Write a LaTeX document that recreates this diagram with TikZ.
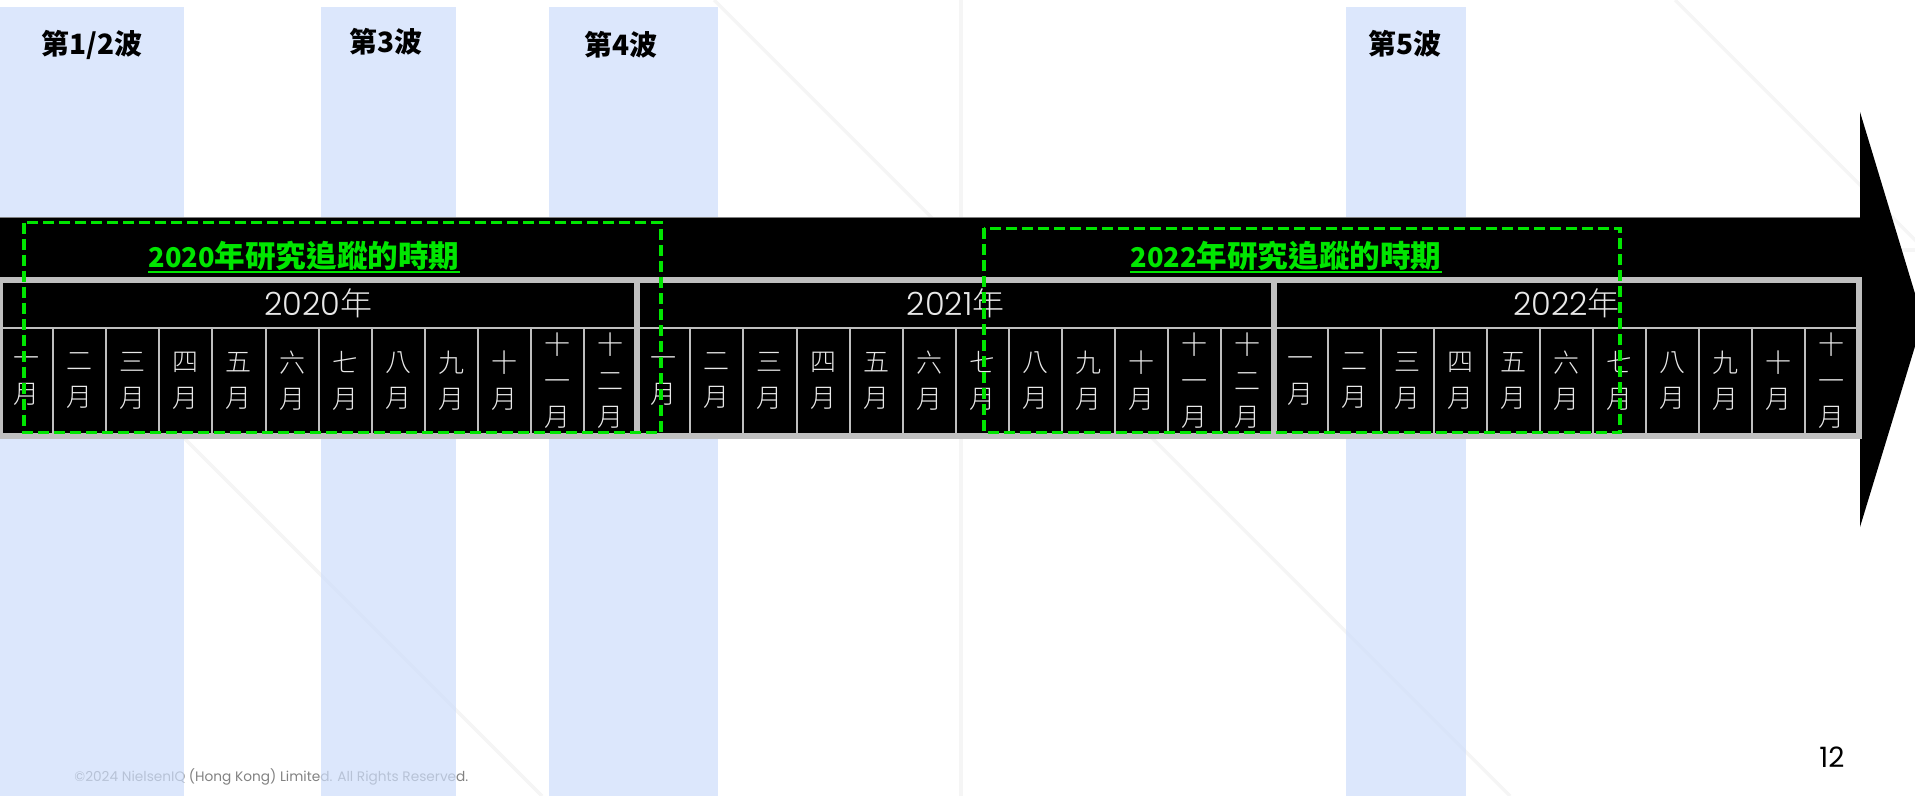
\documentclass[tikz,border=0pt]{standalone}
\usepackage{fontspec}
\newfontfamily\cjk{Noto Sans CJK TC}
\newfontfamily\pop{Poppins}
\IfFontExistsTF{Poppins Light}{\newfontfamily\popl{Poppins Light}}{\newfontfamily\popl{Poppins}}
\IfFontExistsTF{Noto Sans CJK TC Light}{\newfontfamily\cjkl{Noto Sans CJK TC Light}}{\newfontfamily\cjkl{Noto Sans CJK TC}}
\definecolor{bandblue}{RGB}{206,222,251}
\definecolor{ngreen}{RGB}{0,230,0}
\definecolor{gridgray}{RGB}{191,191,191}
\definecolor{faint}{RGB}{245,245,245}
\definecolor{monthtxt}{RGB}{232,232,232}
\definecolor{foottxt}{RGB}{130,130,130}
\tikzset{
  faintline/.style={faint, line width=1.6pt},
  bandfill/.style={fill=bandblue, opacity=0.7},
  wave/.style={inner sep=0pt, font=\cjk\bfseries\fontsize{14pt}{14pt}\selectfont, text=black},
  thinrule/.style={gridgray, line width=1pt},
  thickrule/.style={gridgray, line width=3pt},
  monthlbl/.style={inner sep=0pt, align=center, text=monthtxt, font=\cjkl\fontsize{13pt}{18pt}\selectfont},
  yearlbl/.style={inner sep=0pt, anchor=base, text=monthtxt, font=\fontsize{16pt}{16pt}\selectfont},
  titlelbl/.style={inner sep=0pt, anchor=base, text=ngreen, font=\cjk\bfseries},
  gbox/.style={ngreen, line width=1.65pt, dash pattern=on 5.5pt off 2.5pt},
  uline/.style={ngreen, line width=0.9pt}
}
\begin{document}
\begin{tikzpicture}[x=0.5pt,y=-0.5pt]
\useasboundingbox (0,0) rectangle (1915,796);
\clip (0,0) rectangle (1915,796);
\fill[white] (0,0) rectangle (1915,796);
% faint background lines
\draw[faintline] (714,0) -- (1510,796);
\draw[faintline] (-254,0) -- (542,796);
\draw[faintline] (1675,0) -- (2000,325);
\draw[faintline] (961,0) -- (961,796);
\draw[faintline] (1895,250) -- (1915,250);
% footer and page number
\node[anchor=west, inner sep=0pt, text=foottxt, font=\pop\fontsize{6.85pt}{8pt}\selectfont] (foot) at (74,777) {©2024 NielsenIQ (Hong Kong) Limited. All Rights Reserved.};
\node[inner sep=0pt, text=black, font=\pop\fontsize{14pt}{14pt}\selectfont] (pg) at (1832,757) {12};
% wave bands
\fill[bandfill] (0,7) rectangle (184,796);
\fill[bandfill] (321,7) rectangle (456,796);
\fill[bandfill] (549,7) rectangle (718,796);
\fill[bandfill] (1346,7) rectangle (1466,796);
\node[wave] (w12) at (92,45) {第1/2波};
\node[wave] (w3) at (386,41.5) {第3波};
\node[wave] (w4) at (621,44.5) {第4波};
\node[wave] (w5) at (1405,43.5) {第5波};
% black arrow
\fill[black] (0,218) rectangle (1860,438);
\draw[gray, line width=0.5pt] (0,218) -- (1860,218);
\fill[black] (1860,112) -- (1923,320) -- (1860,527) -- cycle;
% grid
\draw[thinrule] (0,328) -- (1858.5,328);
\foreach \k in {1,...,34} {\draw[thinrule] ({\k*53.1},328) -- ({\k*53.1},436);}
\draw[thickrule] (637.2,280) -- (637.2,436);
\draw[thickrule] (1274.4,280) -- (1274.4,436);
\draw[thickrule] (0,280) rectangle (1858.5,436);
% month labels
\foreach \yy in {0,1,2} {
  \foreach \m [count=\i from 0] in {一,二,三,四,五,六,七,八,九,十,{十\\一},{十\\二}} {
    \pgfmathtruncatemacro{\idx}{\yy*12+\i}
    \ifnum\idx<35
      \node[monthlbl] (m-\idx) at ({(\idx+0.5)*53.1},381) {\m\\月};
    \fi
  }
}
% year labels
\node[yearlbl] (y2020) at (318.6,316) {{\popl 2020}{\cjkl 年}};
\node[yearlbl] (y2021) at (955.8,316) {{\popl 2021}{\cjkl 年}};
\node[yearlbl] (y2022) at (1566.5,316) {{\popl 2022}{\cjkl 年}};
% study period boxes and titles
\draw[gbox] (24,222.7) rectangle (661,432.7);
\draw[gbox] (984,228.3) rectangle (1620,432.7);
\node[titlelbl] (t1) at (304,268) {{\fontsize{13.6pt}{14pt}\selectfont 2020}{\fontsize{15.3pt}{16pt}\selectfont 年研究追蹤的時期}};
\node[titlelbl] (t2) at (1286,268) {{\fontsize{13.6pt}{14pt}\selectfont 2022}{\fontsize{15.3pt}{16pt}\selectfont 年研究追蹤的時期}};
\draw[uline] ([yshift=-2.2pt]t1.base west) -- ([yshift=-2.2pt]t1.base east);
\draw[uline] ([yshift=-2.2pt]t2.base west) -- ([yshift=-2.2pt]t2.base east);
\end{tikzpicture}
\end{document}
